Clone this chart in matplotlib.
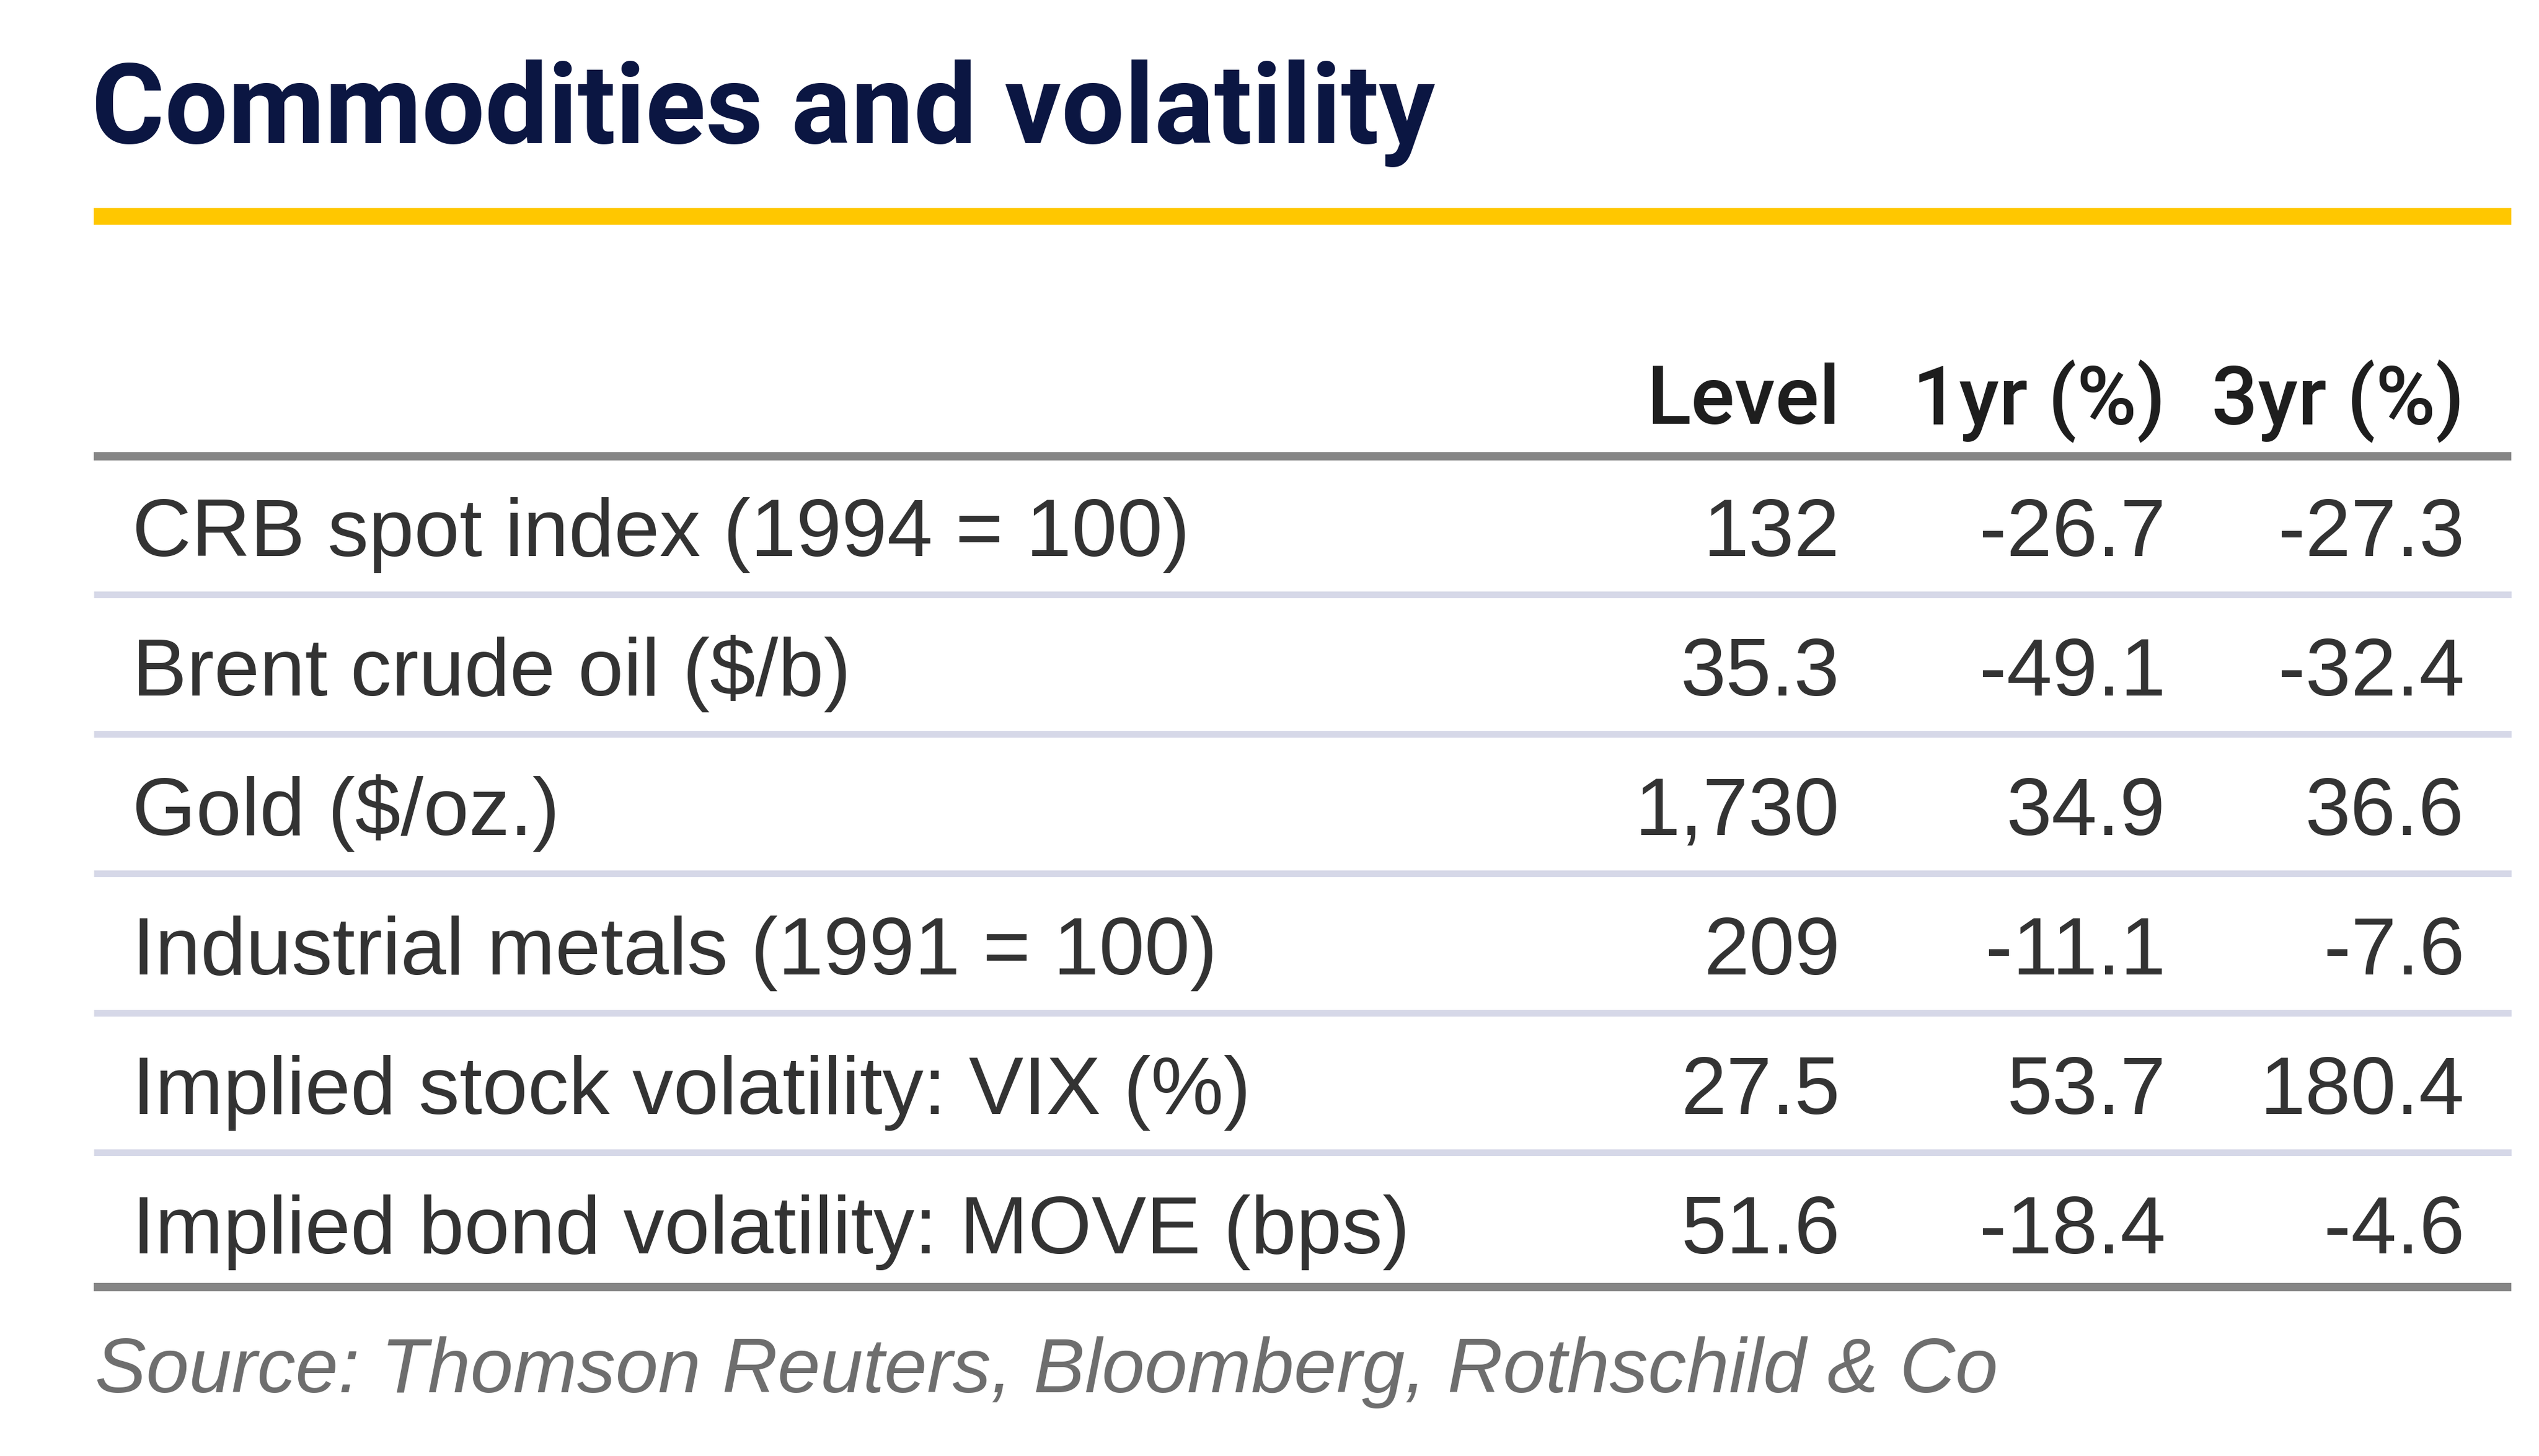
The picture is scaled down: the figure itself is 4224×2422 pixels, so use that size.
import matplotlib
matplotlib.use("Agg")
import matplotlib.pyplot as plt

# table contents
title = "Commodities and volatility"
columns = ["Level", "1yr (%)", "3yr (%)"]
labels = [
    "CRB spot index (1994 = 100)",
    "Brent crude oil ($/b)",
    "Gold ($/oz.)",
    "Industrial metals (1991 = 100)",
    "Implied stock volatility: VIX (%)",
    "Implied bond volatility: MOVE (bps)",
]
level = [132, 35.3, 1730, 209, 27.5, 51.6]
chg_1yr = [-26.7, -49.1, 34.9, -11.1, 53.7, -18.4]
chg_3yr = [-27.3, -32.4, 36.6, -7.6, 180.4, -4.6]
source = "Source: Thomson Reuters, Bloomberg, Rothschild & Co"


def fmt(v):
    if float(v).is_integer():
        return f"{v:,.0f}"
    return f"{v:.1f}"


W, H = 4224, 2422
fig = plt.figure(figsize=(W / 100, H / 100), dpi=100)
ax = fig.add_axes([0, 0, 1, 1])
ax.set_xlim(0, W)
ax.set_ylim(H, 0)
ax.axis("off")

body_font = "Liberation Sans"
navy = "#0b1642"
txt = "#333333"
x0, x1 = 156, 4178

# title + yellow rule
ax.text(152, 238, title, fontsize=134, fontweight="bold", color=navy,
        family=["Roboto", "DejaVu Sans"], va="baseline", ha="left")
ax.plot([x0, x1], [360, 360], color="#ffc700", lw=20, solid_capstyle="butt")

# header
col_right = [3061, 3603, 4100]
for x, c in zip(col_right, columns):
    ax.text(x, 705, c, fontsize=98, color="#1e1e1e",
            family=["Roboto", "DejaVu Sans"], fontweight="medium",
            va="baseline", ha="right")
ax.plot([x0, x1], [759, 759], color="#858585", lw=10, solid_capstyle="butt")

# rows
pitch = 232
base0 = 925
for i, lab in enumerate(labels):
    yb = base0 + i * pitch
    ax.text(220, yb, lab, fontsize=98, color=txt, family=body_font,
            va="baseline", ha="left")
    vals = [fmt(level[i]), fmt(chg_1yr[i]), fmt(chg_3yr[i])]
    for x, v in zip(col_right, vals):
        ax.text(x, yb, v, fontsize=98, color=txt, family=body_font,
                va="baseline", ha="right")
    if i < len(labels) - 1:
        ax.plot([x0, x1], [yb + 64, yb + 64], color="#d6d8e8", lw=8,
                solid_capstyle="butt")

ax.plot([x0, x1], [2141, 2141], color="#858585", lw=10, solid_capstyle="butt")

# source note
ax.text(158, 2316, source, fontsize=92, color="#6e6e6e", style="italic",
        family=body_font, va="baseline", ha="left")

fig.savefig("out.png", dpi=100, facecolor="white")
